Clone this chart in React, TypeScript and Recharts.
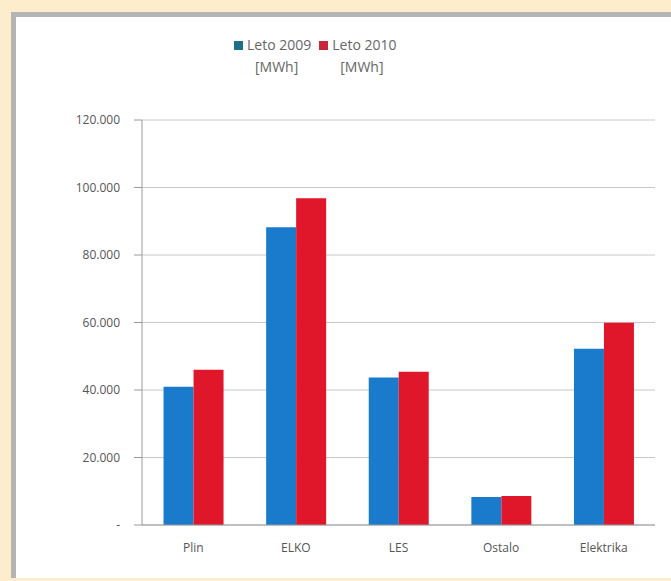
import React from "react"
import { BarChart, Bar, XAxis, YAxis, CartesianGrid } from "recharts"

const categories = ["Plin", "ELKO", "LES", "Ostalo", "Elektrika"]
const leto2009 = [41000, 88200, 43700, 8300, 52200]
const leto2010 = [46000, 96800, 45400, 8600, 59900]
const yTicks = [0, 20000, 40000, 60000, 80000, 100000, 120000]

const data = categories.map((name, i) => ({
  name,
  leto2009: leto2009[i],
  leto2010: leto2010[i],
}))

const fmt = (v: number) => (v === 0 ? "-" : v.toLocaleString("de-DE"))

const legendItems = [
  { color: "#1d6f8c", label: "Leto 2009" },
  { color: "#c8283c", label: "Leto 2010" },
]

const ChartLegend = () => (
  <div
    style={{
      position: "absolute",
      left: 234,
      top: 34,
      display: "flex",
      gap: 8,
      fontFamily: "'Open Sans', sans-serif",
      fontSize: 14,
      color: "#666",
      lineHeight: "22px",
    }}
  >
    {legendItems.map((it) => (
      <div key={it.label} style={{ display: "flex", alignItems: "flex-start" }}>
        <span style={{ width: 9, height: 9, background: it.color, marginTop: 7, marginRight: 4, display: "inline-block" }} />
        <div>
          {it.label}
          <br />
          <span style={{ paddingLeft: 8 }}>[MWh]</span>
        </div>
      </div>
    ))}
  </div>
)

export default function App() {
  return (
    <div style={{ position: "absolute", left: 0, top: 0, width: 671, height: 581, background: "#feedcc", overflow: "hidden" }}>
      <div
        style={{
          position: "absolute",
          left: 11,
          top: 12,
          width: 670,
          height: 566,
          background: "#fff",
          borderLeft: "5px solid #b4b4b4",
          borderTop: "5px solid #b4b4b4",
          boxSizing: "border-box",
        }}
      />
      <div style={{ position: "absolute", left: 0, top: 0 }}>
        <BarChart
          width={671}
          height={581}
          data={data}
          margin={{ top: 120, right: 16, bottom: 26, left: 82 }}
          barCategoryGap="21%"
          barGap={0}
        >
          <CartesianGrid vertical={false} stroke="#c8c8c8" />
          <XAxis
            dataKey="name"
            height={30}
            tickLine={false}
            axisLine={{ stroke: "#9a9a9a" }}
            tick={{ fill: "#555", fontSize: 12, fontFamily: "'Open Sans', sans-serif" }}
            tickMargin={12}
          />
          <YAxis
            width={60}
            domain={[0, 120000]}
            ticks={yTicks}
            tickFormatter={fmt}
            axisLine={{ stroke: "#9a9a9a" }}
            tickLine={{ stroke: "#9a9a9a" }}
            tickSize={8}
            tickMargin={14}
            interval={0}
            tick={{ fill: "#555", fontSize: 12, fontFamily: "'Open Sans', sans-serif" }}
          />
          <Bar dataKey="leto2009" fill="#1a7bcc" isAnimationActive={false} />
          <Bar dataKey="leto2010" fill="#e0162b" isAnimationActive={false} />
        </BarChart>
      </div>
      <ChartLegend />
    </div>
  )
}
